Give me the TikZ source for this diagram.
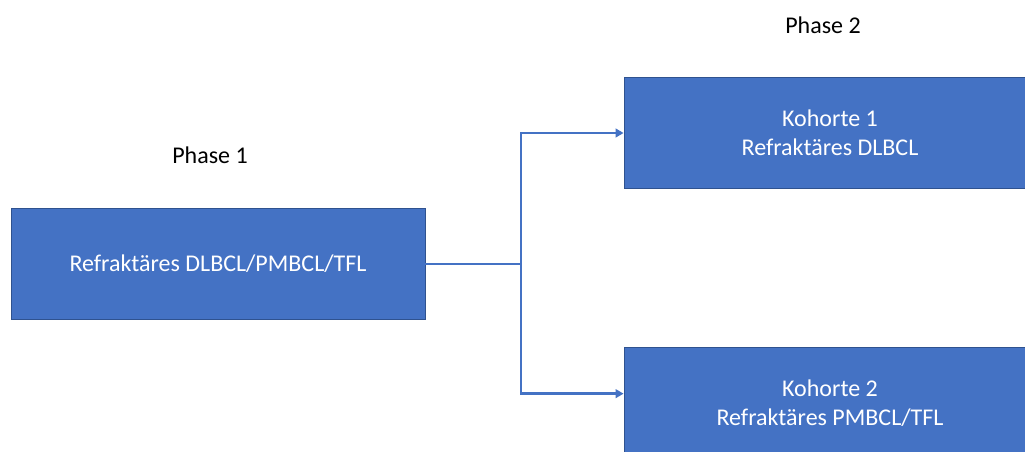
\documentclass[tikz,border=0pt]{standalone}
\usepackage{fontspec}
\setmainfont{Carlito}
\usetikzlibrary{arrows.meta}
\definecolor{boxfill}{HTML}{4472C4}
\definecolor{boxedge}{HTML}{2F528F}
\begin{document}
\begin{tikzpicture}[x=0.75pt,y=-0.75pt,
  phasebox/.style={draw=boxedge,line width=0.6pt,fill=boxfill,text=white,
    inner sep=0pt,align=center,font=\fontsize{18}{21.8}\selectfont},
  label/.style={font=\fontsize{18}{21}\selectfont,inner sep=0pt},
  flow/.style={draw=boxfill,line width=1.9pt},
  tip/.style={-{Triangle[length=6pt,width=6.5pt]}}]
  \useasboundingbox (0,0) rectangle (1025,452);
  \clip (0,0) rectangle (1025,452);

  % phase headings
  \node[label] (p1) at (210,155) {Phase 1};
  \node[label] (p2) at (823,25) {Phase 2};

  % cohort boxes
  \node[phasebox,minimum width=414*0.75pt,minimum height=111*0.75pt]
    (start) at (218,264) {Refraktäres DLBCL/PMBCL/TFL};
  \node[phasebox,minimum width=412*0.75pt,minimum height=111*0.75pt]
    (k1) at (830,133) {Kohorte 1\\Refraktäres DLBCL};
  \node[phasebox,minimum width=412*0.75pt,minimum height=111*0.75pt]
    (k2) at (830,403) {Kohorte 2\\Refraktäres PMBCL/TFL};

  % split connector
  \coordinate (fork) at (521,264);
  \draw[flow] (start.east) -- (fork);
  \draw[flow,tip] (fork) |- (k1.west);
  \draw[flow,tip] (fork) |- ([yshift=7pt]k2.west);
\end{tikzpicture}
\end{document}
